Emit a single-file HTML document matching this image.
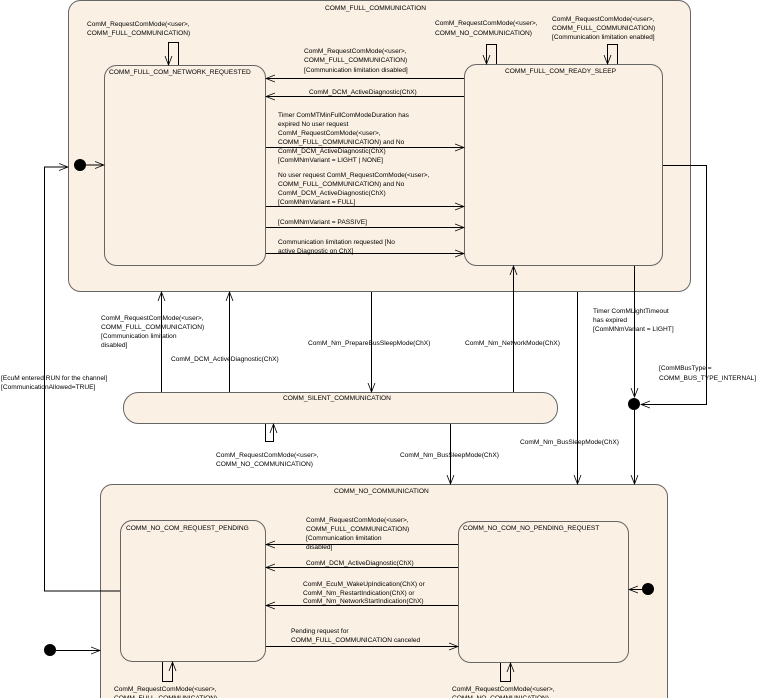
<!DOCTYPE html>
<html><head><meta charset="utf-8"><style>
body{margin:0;background:#fff}
svg{display:block}
text{font-family:"Liberation Sans",sans-serif;font-size:6.6px;fill:#000}
</style></head><body>
<svg width="767" height="698" viewBox="0 0 767 698" xmlns="http://www.w3.org/2000/svg">
<defs>
<marker id="a" markerWidth="10" markerHeight="8" refX="9" refY="4" orient="auto" markerUnits="userSpaceOnUse"><path d="M0,0.5 L9,4 L0,7.5" fill="none" stroke="#000" stroke-width="0.8"/></marker>
</defs>
<g stroke="#666" stroke-width="1" fill="#faf0e3">
<rect x="68.5" y="0.5" width="622" height="291" rx="12"/>
<rect x="104.5" y="65.5" width="161" height="200" rx="12"/>
<rect x="464.5" y="64.5" width="198" height="201" rx="12"/>
<rect x="123.5" y="392.5" width="434" height="31" rx="15"/>
<rect x="100.5" y="484.5" width="567" height="230" rx="12"/>
<rect x="120.5" y="520.5" width="145" height="141" rx="12"/>
<rect x="458.5" y="521.5" width="170" height="141" rx="12"/>
</g>
<g fill="#000">
<circle cx="80" cy="165" r="6"/>
<circle cx="634" cy="404" r="6"/>
<circle cx="648" cy="589" r="6"/>
<circle cx="50" cy="650" r="6"/>
</g>
<g stroke="#000" stroke-width="1" fill="none">
<line x1="86" y1="165" x2="104" y2="165" marker-end="url(#a)"/>
<polyline points="120,591 44.5,591 44.5,167 68,167" marker-end="url(#a)"/>
<polyline points="178.5,65 178.5,42.5 168.5,42.5 168.5,65" marker-end="url(#a)"/>
<polyline points="496.5,64 496.5,44.5 486.5,44.5 486.5,64" marker-end="url(#a)"/>
<polyline points="617.5,64 617.5,44.5 607.5,44.5 607.5,64" marker-end="url(#a)"/>
<line x1="464" y1="78.5" x2="266" y2="78.5" marker-end="url(#a)"/>
<line x1="464" y1="96.5" x2="266" y2="96.5" marker-end="url(#a)"/>
<line x1="266" y1="147.5" x2="464" y2="147.5" marker-end="url(#a)"/>
<line x1="266" y1="206.5" x2="464" y2="206.5" marker-end="url(#a)"/>
<line x1="266" y1="227.5" x2="464" y2="227.5" marker-end="url(#a)"/>
<line x1="266" y1="253.5" x2="464" y2="253.5" marker-end="url(#a)"/>
<line x1="161.5" y1="392" x2="161.5" y2="292" marker-end="url(#a)"/>
<line x1="229.5" y1="392" x2="229.5" y2="292" marker-end="url(#a)"/>
<line x1="371.5" y1="292" x2="371.5" y2="392" marker-end="url(#a)"/>
<line x1="513.5" y1="392" x2="513.5" y2="266" marker-end="url(#a)"/>
<line x1="450.5" y1="424" x2="450.5" y2="484" marker-end="url(#a)"/>
<line x1="577.5" y1="292" x2="577.5" y2="484" marker-end="url(#a)"/>
<line x1="634.5" y1="266" x2="634.5" y2="397" marker-end="url(#a)"/>
<line x1="634.5" y1="410" x2="634.5" y2="484" marker-end="url(#a)"/>
<polyline points="663,165.5 706.5,165.5 706.5,404.5 641,404.5" marker-end="url(#a)"/>
<polyline points="265.5,424 265.5,441.5 273.5,441.5 273.5,424" marker-end="url(#a)"/>
<line x1="458" y1="544.5" x2="266" y2="544.5" marker-end="url(#a)"/>
<line x1="458" y1="567.5" x2="266" y2="567.5" marker-end="url(#a)"/>
<line x1="458" y1="605.5" x2="266" y2="605.5" marker-end="url(#a)"/>
<line x1="266" y1="646.5" x2="458" y2="646.5" marker-end="url(#a)"/>
<line x1="642" y1="589.5" x2="629" y2="589.5" marker-end="url(#a)"/>
<line x1="56" y1="650.5" x2="100" y2="650.5" marker-end="url(#a)"/>
<polyline points="162.5,662 162.5,681.5 172.5,681.5 172.5,662" marker-end="url(#a)"/>
<polyline points="500.5,663 500.5,681.5 510.5,681.5 510.5,663" marker-end="url(#a)"/>
</g>
<g>
<text x="325" y="10">COMM_FULL_COMMUNICATION</text>
<text x="87" y="26">ComM_RequestComMode(&lt;user&gt;,</text>
<text x="87" y="35">COMM_FULL_COMMUNICATION)</text>
<text x="109" y="74">COMM_FULL_COM_NETWORK_REQUESTED</text>
<text x="304" y="53">ComM_RequestComMode(&lt;user&gt;,</text>
<text x="304" y="62">COMM_FULL_COMMUNICATION)</text>
<text x="304" y="72">[Communication limitation disabled]</text>
<text x="309" y="94">ComM_DCM_ActiveDiagnostic(ChX)</text>
<text x="278" y="117">Timer ComMTMinFullComModeDuration has</text>
<text x="278" y="126">expired No user request</text>
<text x="278" y="135">ComM_RequestComMode(&lt;user&gt;,</text>
<text x="278" y="144">COMM_FULL_COMMUNICATION) and No</text>
<text x="278" y="153">ComM_DCM_ActiveDiagnostic(ChX)</text>
<text x="278" y="162">[ComMNmVariant = LIGHT | NONE]</text>
<text x="278" y="177">No user request ComM_RequestComMode(&lt;user&gt;,</text>
<text x="278" y="186">COMM_FULL_COMMUNICATION) and No</text>
<text x="278" y="195">ComM_DCM_ActiveDiagnostic(ChX)</text>
<text x="278" y="204">[ComMNmVariant = FULL]</text>
<text x="278" y="224">[ComMNmVariant = PASSIVE]</text>
<text x="278" y="244">Communication limitation requested [No</text>
<text x="278" y="253">active Diagnostic on ChX]</text>
<text x="435" y="25">ComM_RequestComMode(&lt;user&gt;,</text>
<text x="435" y="35">COMM_NO_COMMUNICATION)</text>
<text x="552" y="21">ComM_RequestComMode(&lt;user&gt;,</text>
<text x="552" y="30">COMM_FULL_COMMUNICATION)</text>
<text x="552" y="39">[Communication limitation enabled]</text>
<text x="505" y="73">COMM_FULL_COM_READY_SLEEP</text>
<text x="101" y="320">ComM_RequestComMode(&lt;user&gt;,</text>
<text x="101" y="329">COMM_FULL_COMMUNICATION)</text>
<text x="101" y="338">[Communication limitation</text>
<text x="101" y="347">disabled]</text>
<text x="171" y="361">ComM_DCM_ActiveDiagnostic(ChX)</text>
<text x="308" y="345">ComM_Nm_PrepareBusSleepMode(ChX)</text>
<text x="465" y="345">ComM_Nm_NetworkMode(ChX)</text>
<text x="593" y="313">Timer ComMLightTimeout</text>
<text x="593" y="322">has expired</text>
<text x="593" y="331">[ComMNmVariant = LIGHT]</text>
<text x="659" y="370">[ComMBusType =</text>
<text x="659" y="380">COMM_BUS_TYPE_INTERNAL]</text>
<text x="1" y="380">[EcuM entered RUN for the channel]</text>
<text x="1" y="389">[CommunicationAllowed=TRUE]</text>
<text x="283" y="400">COMM_SILENT_COMMUNICATION</text>
<text x="216" y="457">ComM_RequestComMode(&lt;user&gt;,</text>
<text x="216" y="466">COMM_NO_COMMUNICATION)</text>
<text x="400" y="457">ComM_Nm_BusSleepMode(ChX)</text>
<text x="520" y="444">ComM_Nm_BusSleepMode(ChX)</text>
<text x="334" y="493">COMM_NO_COMMUNICATION</text>
<text x="126" y="530">COMM_NO_COM_REQUEST_PENDING</text>
<text x="463" y="530">COMM_NO_COM_NO_PENDING_REQUEST</text>
<text x="306" y="522">ComM_RequestComMode(&lt;user&gt;,</text>
<text x="306" y="531">COMM_FULL_COMMUNICATION)</text>
<text x="306" y="540">[Communication limitation</text>
<text x="306" y="549">disabled]</text>
<text x="306" y="565">ComM_DCM_ActiveDiagnostic(ChX)</text>
<text x="303" y="586">ComM_EcuM_WakeUpIndication(ChX) or</text>
<text x="303" y="595">ComM_Nm_RestartIndication(ChX) or</text>
<text x="303" y="603">ComM_Nm_NetworkStartIndication(ChX)</text>
<text x="291" y="633">Pending request for</text>
<text x="291" y="642">COMM_FULL_COMMUNICATION canceled</text>
<text x="114" y="691">ComM_RequestComMode(&lt;user&gt;,</text>
<text x="114" y="700">COMM_FULL_COMMUNICATION)</text>
<text x="452" y="691">ComM_RequestComMode(&lt;user&gt;,</text>
<text x="452" y="700">COMM_NO_COMMUNICATION)</text>
</g>
</svg>
</body></html>
